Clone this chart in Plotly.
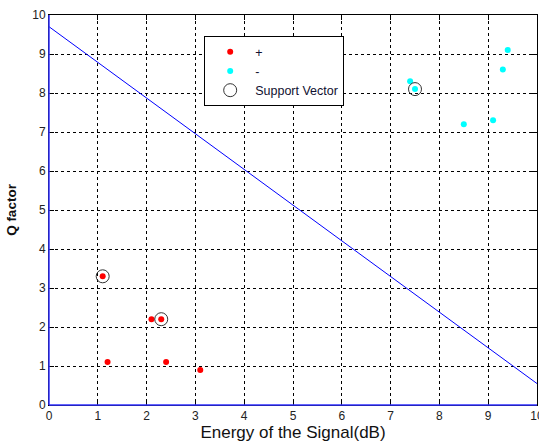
import plotly.graph_objects as go

pos_x = [1.1, 2.1, 2.3, 1.2, 2.4, 3.1]
pos_y = [3.3, 2.2, 2.2, 1.1, 1.1, 0.9]
neg_x = [9.4, 9.3, 7.4, 7.5, 8.5, 9.1]
neg_y = [9.1, 8.6, 8.3, 8.1, 7.2, 7.3]
sv_x = [1.1, 2.3, 7.5]
sv_y = [3.3, 2.2, 8.1]
line_x = [0, 10]
line_y = [9.7, 0.55]
ticks = list(range(0, 11))

FONT = "Liberation Sans, Arial, sans-serif"

fig = go.Figure()
fig.add_trace(go.Scatter(x=line_x, y=line_y, mode="lines",
                         line=dict(color="#0000ff", width=1), showlegend=False))
fig.add_trace(go.Scatter(x=pos_x, y=pos_y, mode="markers", name="+",
                         marker=dict(color="#ff0000", size=6)))
fig.add_trace(go.Scatter(x=neg_x, y=neg_y, mode="markers", name="-",
                         marker=dict(color="#00ffff", size=6)))
fig.add_trace(go.Scatter(x=sv_x, y=sv_y, mode="markers", name="Support Vector",
                         marker=dict(symbol="circle-open", color="#333333", size=13,
                                     line=dict(width=1))))

axis_common = dict(range=[0, 10], tickvals=ticks, showgrid=True, automargin=False,
                   gridcolor="#000000", griddash="3px,3px", gridwidth=1,
                   zeroline=False, showline=True, linecolor="#000000", linewidth=1,
                   mirror="ticks", ticks="inside", ticklen=5, tickcolor="#000000",
                   ticklabeloverflow="allow",
                   tickfont=dict(family=FONT, size=12, color="#222222"))

fig.update_layout(
    width=539, height=443,
    margin=dict(l=49, r=2, t=15, b=38),
    plot_bgcolor="white", paper_bgcolor="white",
    font=dict(family=FONT, size=12, color="#000000"),
    xaxis=dict(**axis_common,
               title=dict(text="Energy of the Signal(dB)",
                          font=dict(size=17, color="#111111"), standoff=0)),
    yaxis=dict(**axis_common,
               title=dict(text="<b>Q factor</b>",
                          font=dict(size=13.5, color="#111111"), standoff=12)),
    legend=dict(x=0.318, y=0.946, xanchor="left", yanchor="top",
                bgcolor="white", bordercolor="#000000", borderwidth=1,
                font=dict(family=FONT, size=12.5, color="#101030"), tracegroupgap=0,
                itemwidth=40),
    shapes=[
        dict(type="line", xref="paper", yref="paper", x0=0, x1=0, y0=0, y1=1,
             line=dict(color="#3030ff", width=1.5), layer="above"),
        dict(type="line", xref="paper", yref="paper", x0=0, x1=1, y0=0, y1=0,
             line=dict(color="#3030ff", width=1.5), layer="above"),
    ],
)

fig.write_html("out.html", config={"displayModeBar": False},
               post_script="document.body.style.margin='0';document.body.style.overflow='hidden';")
